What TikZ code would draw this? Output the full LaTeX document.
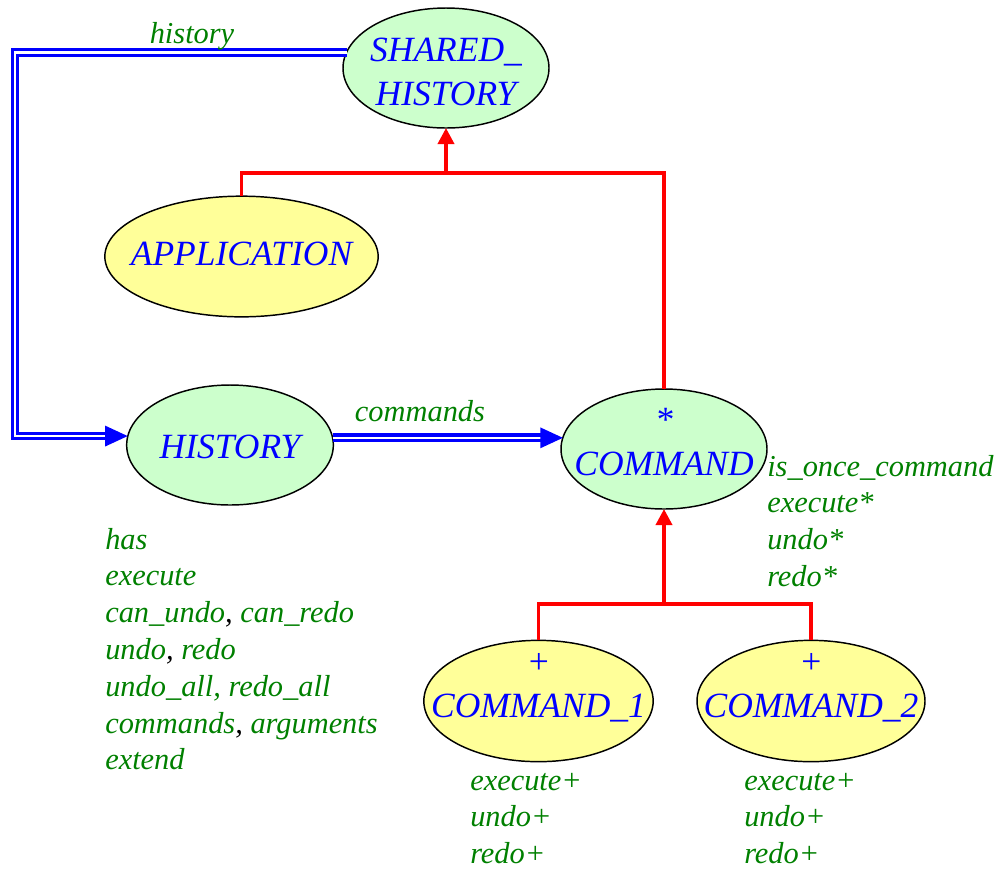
\documentclass[tikz,border=0pt]{standalone}
\usepackage{fontspec}
\setmainfont{Liberation Serif}
\usetikzlibrary{arrows.meta,shapes.geometric}
\definecolor{clsgreen}{HTML}{CCFFCC}
\definecolor{clsyellow}{HTML}{FFFF99}
\definecolor{featgreen}{HTML}{008000}
\definecolor{nameblue}{HTML}{0000FF}
\definecolor{linkred}{HTML}{FF0000}
\newcommand{\bk}{\textcolor{black}{,}}
\newcommand{\lbl}[1]{\makebox[0pt]{#1}}
\newcommand{\twol}[2]{\makebox[0pt]{\begin{tabular}[b]{@{}c@{}}#1\\#2\end{tabular}}}
\begin{document}
\begin{tikzpicture}[x=0.75pt,y=-0.75pt,
  cls/.style={ellipse, draw=black, line width=1.1pt, inner sep=0pt, outer sep=0pt, text=nameblue,
    font=\fontsize{26.6pt}{33pt}\selectfont\itshape},
  greencls/.style={cls, fill=clsgreen},
  yellowcls/.style={cls, fill=clsyellow},
  feat/.style={text=featgreen, font=\fontsize{22.8pt}{27.6pt}\selectfont\itshape, inner sep=0pt, anchor=base west},
  inherit/.style={draw=linkred, line width=2.7pt},
  inheritarrow/.style={inherit, -{Triangle[length=12pt,width=12pt]}},
  client/.style={draw=nameblue, double=white, line width=2.3pt, double distance=2pt,
    -{Triangle[length=17pt,width=15pt]}},
]
\useasboundingbox (0,0) rectangle (995,869);

% classes
\node[greencls, minimum width=154.5pt, minimum height=90pt, text height=55.5pt, text depth=0pt]
  (sh) at (446,68) {\twol{SHARED\_}{HISTORY}};
\node[yellowcls, minimum width=205pt, minimum height=90.5pt, text height=12.75pt, text depth=0pt]
  (app) at (241.5,256.5) {\lbl{APPLICATION}};
\node[greencls, minimum width=155pt, minimum height=90pt, text height=19.5pt, text depth=0pt]
  (hist) at (230,445) {\lbl{HISTORY}};
\node[greencls, minimum width=154.5pt, minimum height=90pt, text height=39pt, text depth=0pt]
  (cmd) at (664,449) {\twol{*}{COMMAND}};
\node[yellowcls, minimum width=172pt, minimum height=91pt, text height=24pt, text depth=0pt]
  (c1) at (538.5,701) {\twol{+}{COMMAND\_1}};
\node[yellowcls, minimum width=171pt, minimum height=91pt, text height=24pt, text depth=0pt]
  (c2) at (811,701) {\twol{+}{COMMAND\_2}};

% inheritance links
\coordinate (topj) at (446,173);
\draw[inherit] (app.north) |- (topj) -| (cmd.north);
\draw[inheritarrow] (topj) -- (sh.south);
\coordinate (botj) at (664,604);
\draw[inherit] (c1.north) |- (botj) -| (c2.north);
\draw[inheritarrow] (botj) -- (cmd.south);

% client links
\coordinate (leftx) at (15,0);
\draw[client] (sh.171) -- (sh.171 -| leftx) |- (hist.175.5);
\draw[client] (hist.4.5) -- ([xshift=1.5pt]hist.4.5 -| cmd.west);

% link labels
\node[feat, anchor=base] (lhist) at (192,43) {history};
\node[feat, anchor=base] (lcmds) at (420,421) {commands};

% feature lists
\node[feat] (fhist) at (105,549) {\begin{tabular}[t]{@{}l@{}}has\\execute\\can\_undo\bk{} can\_redo\\undo\bk{} redo\\undo\_all, redo\_all\\commands\bk{} arguments\\extend\end{tabular}};
\node[feat] (fcmd) at (767,476) {\begin{tabular}[t]{@{}l@{}}is\_once\_command\\execute*\\undo*\\redo*\end{tabular}};
\node[feat] (fc1) at (470,790) {\begin{tabular}[t]{@{}l@{}}execute+\\undo+\\redo+\end{tabular}};
\node[feat] (fc2) at (744,790) {\begin{tabular}[t]{@{}l@{}}execute+\\undo+\\redo+\end{tabular}};
\end{tikzpicture}
\end{document}
